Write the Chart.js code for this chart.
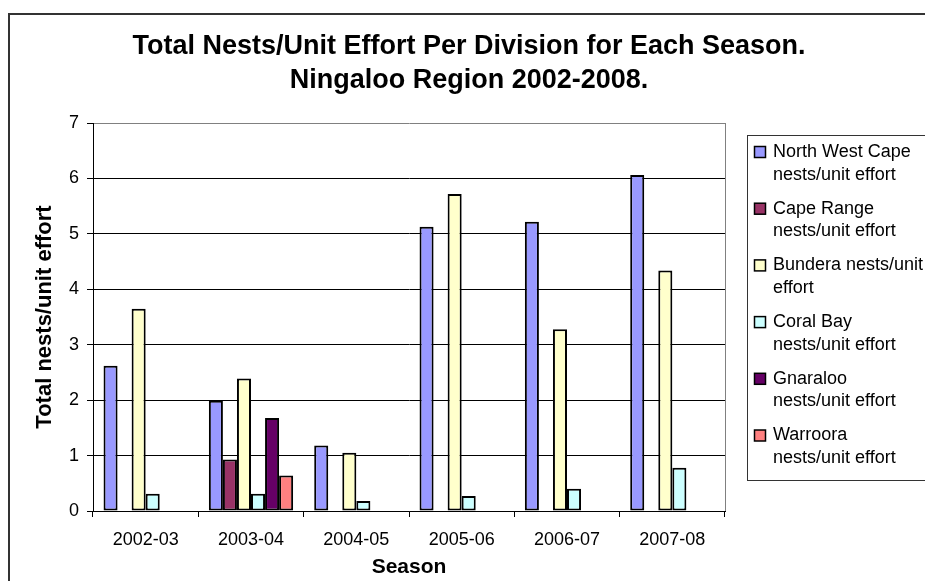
<!DOCTYPE html>
<html>
<head>
<meta charset="utf-8">
<script src="https://cdn.jsdelivr.net/npm/chart.js@4.4.1/dist/chart.umd.min.js"></script>
<style>
  html, body { margin: 0; padding: 0; background: #fff; }
  canvas { display: block; }
</style>
</head>
<body>
<canvas id="nestChart" width="925" height="581"></canvas>
<script>
const seasons = ["2002-03", "2003-04", "2004-05", "2005-06", "2006-07", "2007-08"]

const northWestCape = [2.62, 1.99, 1.18, 5.13, 5.22, 6.06]
const capeRange = [null, 0.93, null, null, null, null]
const bundera = [3.65, 2.39, 1.05, 5.72, 3.28, 4.34]
const coralBay = [0.31, 0.31, 0.18, 0.27, 0.40, 0.78]
const gnaraloo = [null, 1.68, null, null, null, null]
const warroora = [null, 0.64, null, null, null, null]

const seriesNames = [
    "North West Cape\nnests/unit effort",
    "Cape Range\nnests/unit effort",
    "Bundera nests/unit\neffort",
    "Coral Bay\nnests/unit effort",
    "Gnaraloo\nnests/unit effort",
    "Warroora\nnests/unit effort"
]
const seriesColors = ["#9999FF", "#993366", "#FFFFCC", "#CCFFFF", "#660066", "#FF8080"]
const seriesValues = [northWestCape, capeRange, bundera, coralBay, gnaraloo, warroora]

const titleLines = ["Total Nests/Unit Effort Per Division for Each Season.", "Ningaloo Region 2002-2008."]
const yTicks = [0, 1, 2, 3, 4, 5, 6, 7]

const FONT = "'Liberation Sans', Arial, sans-serif"

// white background, outer frame, title, plot border and the legend box
const decorations = {
    id: "decorations",
    beforeDraw(chart) {
        const ctx = chart.ctx
        ctx.save()
        ctx.fillStyle = "#fff"
        ctx.fillRect(0, 0, chart.width, chart.height)
        ctx.restore()
    },
    afterDraw(chart) {
        const ctx = chart.ctx
        const area = chart.chartArea
        ctx.save()

        // outer chart frame (runs off right and bottom)
        ctx.strokeStyle = "#333"
        ctx.lineWidth = 2
        ctx.beginPath()
        ctx.moveTo(9, chart.height + 2)
        ctx.lineTo(9, 14)
        ctx.lineTo(chart.width + 2, 14)
        ctx.stroke()

        // plot area right edge
        ctx.strokeStyle = "#808080"
        ctx.lineWidth = 1
        ctx.beginPath()
        ctx.moveTo(area.right + 0.5, area.top)
        ctx.lineTo(area.right + 0.5, area.bottom)
        ctx.stroke()

        // title
        ctx.fillStyle = "#000"
        ctx.font = "bold 27px " + FONT
        ctx.textAlign = "center"
        ctx.textBaseline = "alphabetic"
        ctx.fillText(titleLines[0], 469, 54)
        ctx.fillText(titleLines[1], 469, 88)

        // legend
        ctx.strokeStyle = "#333"
        ctx.lineWidth = 1
        ctx.strokeRect(747.5, 135.5, 250, 345)
        ctx.font = "18px " + FONT
        ctx.textAlign = "left"
        ctx.textBaseline = "middle"
        chart.data.datasets.forEach((ds, i) => {
            const y = 152 + i * 56.7
            ctx.fillStyle = ds.backgroundColor
            ctx.fillRect(754.5, y - 5.5, 11, 11)
            ctx.strokeStyle = "#000"
            ctx.lineWidth = 1.5
            ctx.strokeRect(754.5, y - 5.5, 11, 11)
            ctx.fillStyle = "#000"
            ds.label.split("\n").forEach((line, j) => {
                ctx.fillText(line, 773, y + j * 22.7)
            })
        })
        ctx.restore()
    }
}

const datasets = seriesValues.map((values, i) => ({
    label: seriesNames[i],
    data: values,
    backgroundColor: seriesColors[i],
    borderColor: "#000",
    borderWidth: 2,
    borderSkipped: false
}))

new Chart(document.getElementById("nestChart"), {
    type: "bar",
    data: {
        labels: seasons,
        datasets: datasets
    },
    options: {
        responsive: false,
        animation: false,
        devicePixelRatio: 1,
        layout: {
            padding: { top: 123, right: 200, left: 0, bottom: 0 }
        },
        datasets: {
            bar: {
                categoryPercentage: 0.8,
                barPercentage: 1.0
            }
        },
        plugins: {
            legend: { display: false },
            title: { display: false },
            tooltip: { enabled: false }
        },
        scales: {
            x: {
                afterFit: (scale) => { scale.height = 70 },
                grid: {
                    offset: true,
                    drawOnChartArea: false,
                    drawTicks: true,
                    tickLength: 6,
                    tickColor: "#000"
                },
                border: { color: "#000", width: 1 },
                ticks: {
                    color: "#000",
                    padding: 12,
                    font: { family: FONT, size: 18 }
                },
                title: {
                    display: true,
                    text: "Season",
                    color: "#000",
                    padding: { top: 0, bottom: 1 },
                    font: { family: FONT, size: 21, weight: "bold" }
                }
            },
            y: {
                min: 0,
                max: 7,
                afterFit: (scale) => { scale.width = 93 },
                afterBuildTicks: (scale) => {
                    scale.ticks = yTicks.map(v => ({ value: v }))
                },
                grid: {
                    color: (c) => c.tick && c.tick.value === 7 ? "#808080" : "#000",
                    tickColor: "#000",
                    tickLength: 6
                },
                border: { color: "#000", width: 1 },
                ticks: {
                    color: "#000",
                    padding: 8,
                    font: { family: FONT, size: 18 }
                },
                title: {
                    display: true,
                    text: "Total nests/unit effort",
                    color: "#000",
                    padding: { top: 32, bottom: 0 },
                    font: { family: FONT, size: 22, weight: "bold" }
                }
            }
        }
    },
    plugins: [decorations]
})
</script>
</body>
</html>
